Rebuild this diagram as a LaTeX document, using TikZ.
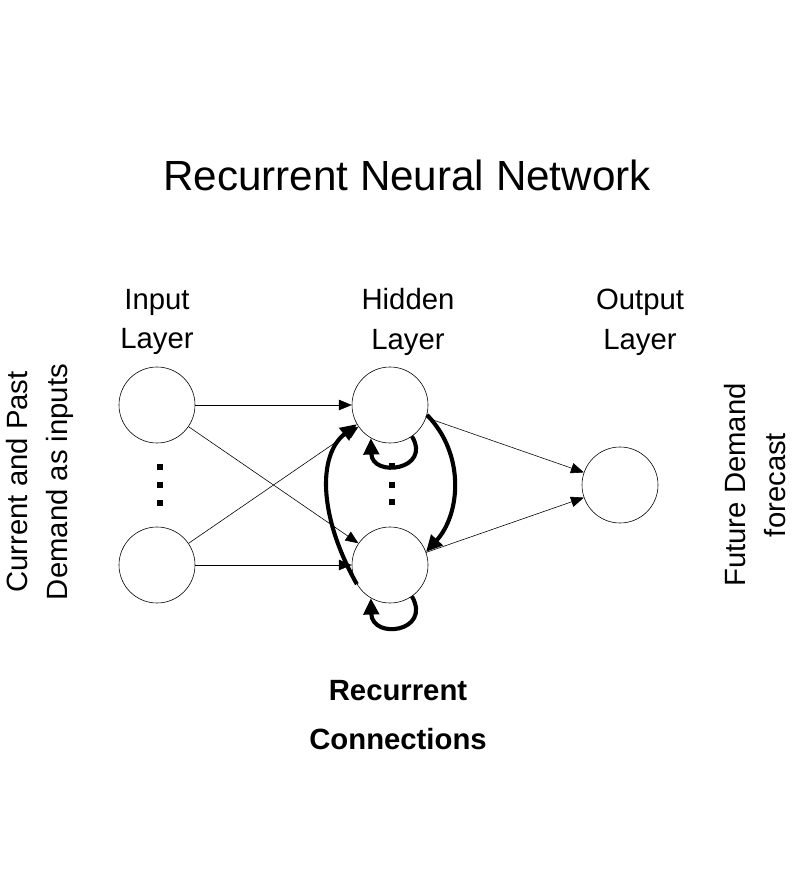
\documentclass[tikz,border=0pt]{standalone}
\usepackage{fontspec}
\setmainfont{Liberation Sans}
\usetikzlibrary{arrows.meta}
\begin{document}
\begin{tikzpicture}[x=0.03cm,y=-0.03cm,
  neuron/.style={circle,draw,line width=0.5pt,minimum size=76*0.03cm,inner sep=0},
  conn/.style={line width=0.5pt,-{Triangle[length=11pt,width=9pt]}},
  rec/.style={line width=3.5pt,-{Triangle[length=14pt,width=13pt]}},
  lab/.style={font=\fontsize{25}{34}\selectfont,align=center},
  dot/.style={fill,inner sep=0,minimum size=6*0.03cm}]
\useasboundingbox (0,0) rectangle (791,881);
\node[font=\fontsize{36}{40}\selectfont] (title) at (407,175) {Recurrent Neural Network};
\node[lab] (il) at (157,322) {Input\\Layer};
\node[lab] (hl) at (408,322) {Hidden\\Layer};
\node[lab] (ol) at (640,322) {Output\\Layer};
\node[lab,rotate=90] (cur) at (40,482) {Current and Past\\Demand as inputs};
\node[lab,rotate=90] (fut) at (755,485) {Future Demand\\forecast};
\node[lab,font=\bfseries\fontsize{25}{42}\selectfont] (rc) at (398,715) {Recurrent\\Connections};
\node[neuron] (i1) at (157,405) {};
\node[neuron] (i2) at (157,565) {};
\node[neuron] (h1) at (390,405) {};
\node[neuron] (h2) at (390,565) {};
\node[neuron] (o) at (620,485) {};
\foreach \y [count=\k] in {467,485,503} \node[dot] (d\k) at (160,\y) {};
\foreach \y [count=\k] in {466,485,502} \node[dot] (e\k) at (392,\y) {};
\draw[conn] (i1) -- (h1);
\draw[conn] (i1) -- (h2);
\draw[conn] (i2) -- (h1);
\draw[conn] (i2) -- (h2);
\draw[conn] (h1) -- (o);
\draw[conn] (h2) -- (o);
\draw[rec] (h1.-55) .. controls (432,470) and (372,478) .. (h1.-120);
\draw[rec] (h2.-55) .. controls (432,632) and (372,640) .. (h2.-120);
\draw[rec] (h2.-150) .. controls (318,515) and (318,455) .. (h1.-150);
\draw[rec] (h1.-15) .. controls (466,455) and (460,515) .. (h2.20);
\end{tikzpicture}
\end{document}
